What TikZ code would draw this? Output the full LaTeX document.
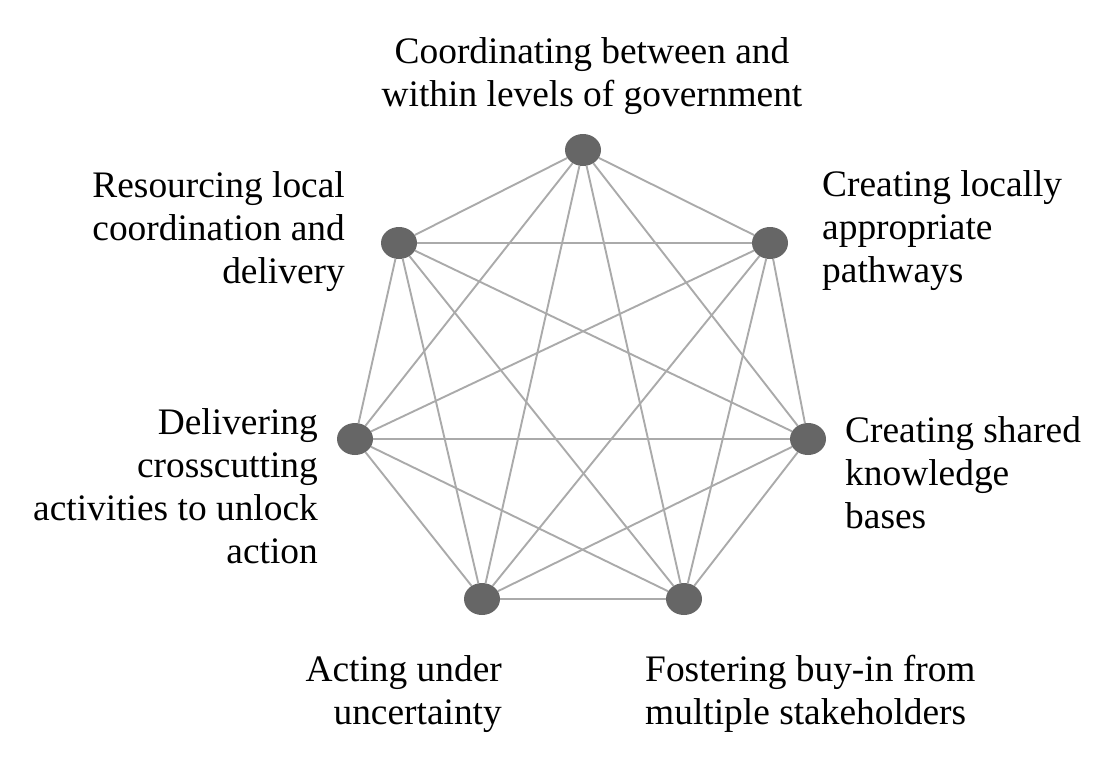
\documentclass[tikz,border=0pt]{standalone}
\usepackage{fontspec}
\setmainfont{Liberation Serif}
\usepackage{xcolor}
\usepackage{tikz}
\usetikzlibrary{shapes.geometric}

\definecolor{dotgray}{HTML}{666666}
\definecolor{linkgray}{HTML}{AAAAAA}

\begin{document}
\begin{tikzpicture}[x=1pt,y=-1pt,
                        dot/.style={ellipse,fill=dotgray,inner sep=0pt,
                                    minimum width=36pt,minimum height=32pt},
                        link/.style={draw=linkgray,line width=1.9pt},
                        goal/.style={font=\fontsize{37.4}{43}\selectfont,inner sep=0pt}]
                        \useasboundingbox (0,0) rectangle (1118,773);
                        % the seven challenges
                        \node[dot] (gov) at (583,150) {};
                        \node[dot] (path) at (770,243) {};
                        \node[dot] (know) at (808,439) {};
                        \node[dot] (buyin) at (684,599) {};
                        \node[dot] (uncert) at (482,599) {};
                        \node[dot] (cross) at (355,439) {};
                        \node[dot] (res) at (399,243) {};
                        % every pair is linked
                        \foreach \a [count=\i] in {gov,path,know,buyin,uncert,cross,res}
                            \foreach \b [count=\j] in {gov,path,know,buyin,uncert,cross,res}
                                {\ifnum\i<\j \draw[link] (\a) -- (\b); \fi}
                        % labels
                        \node[goal,align=center] (govtext) at (592,76)
                            {Coordinating between and\\within levels of government};
                        \node[goal,align=left,anchor=west] (pathtext) at (822,231)
                            {Creating locally\\appropriate\\pathways};
                        \node[goal,align=left,anchor=west] (knowtext) at (845,473)
                            {Creating shared\\knowledge\\bases};
                        \node[goal,align=left,anchor=west] (buyintext) at (645,694)
                            {Fostering buy-in from\\multiple stakeholders};
                        \node[goal,align=right,anchor=east] (uncerttext) at (502,694)
                            {Acting under\\uncertainty};
                        \node[goal,align=right,anchor=east] (crosstext) at (318,486)
                            {Delivering\\crosscutting\\activities to unlock\\action};
                        \node[goal,align=right,anchor=east] (restext) at (345,232)
                            {Resourcing local\\coordination and\\delivery};
                    \end{tikzpicture}
\end{document}
